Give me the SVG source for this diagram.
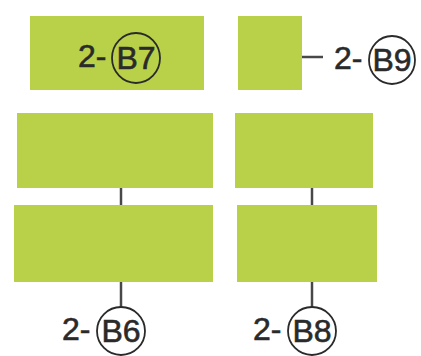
<svg xmlns="http://www.w3.org/2000/svg" width="421" height="356" viewBox="0 0 421 356">
<style>
.box{fill:#b8d149;}
.ln{stroke:#484848;stroke-width:2.5;fill:none;}
.c{stroke:#2a2a2a;stroke-width:1.8;fill:none;}
.t{font-family:"Liberation Sans",Arial,sans-serif;font-size:32px;fill:#2a2a2a;stroke:#2a2a2a;stroke-width:0.6;}
.m{text-anchor:middle;}
</style>
<rect width="421" height="356" fill="#ffffff"/>
<g id="connectors">
<line class="ln" x1="121" y1="188" x2="121" y2="205"/>
<line class="ln" x1="312" y1="188" x2="312" y2="205"/>
<line class="ln" x1="121" y1="282" x2="121" y2="307"/>
<line class="ln" x1="312" y1="282" x2="312" y2="307"/>
<line class="ln" x1="302" y1="57" x2="323" y2="57"/>
</g>
<g id="nodeB7">
<rect class="box" x="30" y="16" width="174" height="74"/>
<text class="t" x="78" y="67">2-</text>
<ellipse class="c" cx="136" cy="58" rx="24" ry="25"/>
<text class="t m" x="136" y="69">B7</text>
</g>
<g id="nodeB9">
<rect class="box" x="238" y="16" width="64" height="74"/>
<text class="t" x="334" y="69">2-</text>
<ellipse class="c" cx="392" cy="60" rx="23" ry="24"/>
<text class="t m" x="392" y="71">B9</text>
</g>
<g id="nodeL2">
<rect class="box" x="17" y="113" width="196" height="75"/>
</g>
<g id="nodeR2">
<rect class="box" x="235" y="113" width="138" height="75"/>
</g>
<g id="nodeL3">
<rect class="box" x="14" y="205" width="199" height="77"/>
</g>
<g id="nodeR3">
<rect class="box" x="237" y="205" width="140" height="77"/>
</g>
<g id="labelB6">
<text class="t" x="62" y="340">2-</text>
<ellipse class="c" cx="121" cy="331" rx="24" ry="24"/>
<text class="t m" x="121" y="342">B6</text>
</g>
<g id="labelB8">
<text class="t" x="253" y="340">2-</text>
<ellipse class="c" cx="312" cy="331" rx="24" ry="24"/>
<text class="t m" x="312" y="342">B8</text>
</g>
</svg>
